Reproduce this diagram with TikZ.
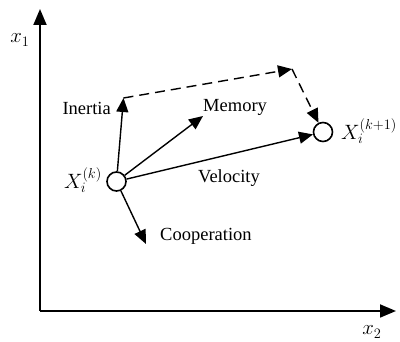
\documentclass[tikz,border=0pt]{standalone}
\usepackage{fontspec}
\setmainfont{Liberation Serif}
\usetikzlibrary{arrows.meta}
\begin{document}
\begin{tikzpicture}[x=1pt,y=-1pt,
  font=\fontsize{18.5}{20}\selectfont,
  mathlab/.style={font=\fontsize{20.5}{22}\selectfont},
  tip/.style={-{Triangle[length=14pt,width=12pt]}},
  axis/.style={line width=1.8pt,-{Triangle[length=16pt,width=13pt]}},
  vec/.style={line width=1.4pt,tip},
  dvec/.style={line width=1.4pt,tip,dash pattern=on 10pt off 6pt},
  particle/.style={circle,draw,line width=1.6pt,fill=white,minimum size=19pt,inner sep=0pt}]
\useasboundingbox (0,0) rectangle (400,342);
\coordinate (o) at (40,311);
\coordinate (ytip) at (40,9);
\coordinate (xtip) at (396,311);
\draw[axis] (o) -- (ytip);
\draw[axis] (o) -- (xtip);
\node[mathlab] (x1) at (20,40) {$x_1$};
\node[mathlab,inner sep=1pt] (x2) at (372,332) {$x_2$};
\node[particle] (pk) at (116.5,181.5) {};
\node[particle] (pk1) at (323,132) {};
\coordinate (inertia) at (123.5,98);
\coordinate (memory) at (203,116);
\coordinate (coop) at (146,244);
\coordinate (corner) at (292,69);
\draw[vec] (pk) -- (inertia);
\draw[vec] (pk) -- (memory);
\draw[vec] (pk) -- (pk1);
\draw[vec] (pk) -- (coop);
\draw[dvec] (inertia) -- (corner);
\draw[dvec] (corner) -- (pk1);
\node[anchor=east,inner sep=0pt] (lin) at (111,108) {Inertia};
\node[anchor=west,inner sep=0pt] (lmem) at (203,107) {Memory};
\node[anchor=west,inner sep=0pt] (lvel) at (198,178) {Velocity};
\node[anchor=west,inner sep=0pt] (lcoop) at (160,236) {Cooperation};
\node[mathlab,anchor=east,inner sep=1pt] (lk) at (103,180) {$X_i^{(k)}$};
\node[mathlab,anchor=west,inner sep=1pt] (lk1) at (340,131) {$X_i^{(k+1)}$};
\end{tikzpicture}
\end{document}
